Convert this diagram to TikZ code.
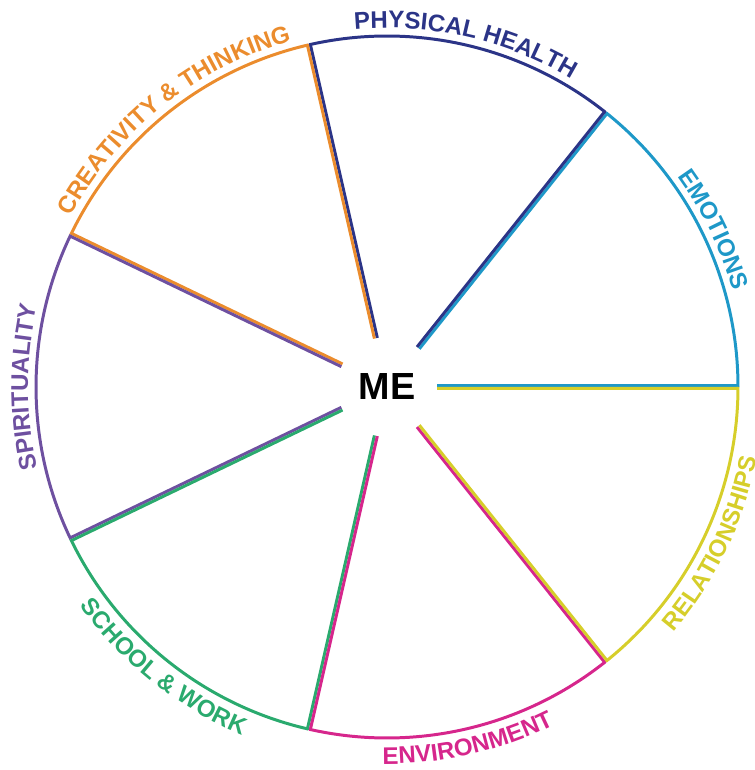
\documentclass[tikz,border=0pt]{standalone}
\usepackage{fontspec}
\setmainfont{Liberation Sans}
\usetikzlibrary{decorations.text}

\definecolor{navy}{RGB}{43,52,135}
\definecolor{sky}{RGB}{30,152,200}
\definecolor{mustard}{RGB}{214,206,42}
\definecolor{magenta}{RGB}{214,38,140}
\definecolor{leaf}{RGB}{42,170,110}
\definecolor{violet}{RGB}{110,80,160}
\definecolor{tangerine}{RGB}{235,140,45}
\newcommand\wheelfont{\bfseries\fontsize{13.7}{16}\selectfont}

\begin{document}
\begin{tikzpicture}[
		x=0.02cm, y=0.02cm,
		spoke/.style={line width=3.4pt},
		rim/.style={line width=1.7pt},
		rimlabel/.style={decorate, decoration={text along path, text align=center, text color=#1}}
		]
		\useasboundingbox (-387,-383) rectangle (367,387);
		% Draw the seven sectors, each clipped to its own wedge
		\foreach \a/\b/\col in {0/51.43/sky, 51.43/102.86/navy, 102.86/154.29/tangerine,
			154.29/205.71/violet, 205.71/257.14/leaf, 257.14/308.57/magenta, 308.57/360/mustard}{
			\begin{scope}
				\clip (0,0) -- (\a:420) arc[start angle=\a, end angle=\b, radius=420] -- cycle;
				\draw[spoke, \col] (\a:50) -- (\a:351) (\b:50) -- (\b:351);
				\draw[rim, \col] (\a:351) arc[start angle=\a, end angle=\b, radius=351];
			\end{scope}
		}
		\node[font=\bfseries\fontsize{21.5}{26}\selectfont] (me) at (0,0) {ME};
		
		% Labels round the rim
		\path[rimlabel=sky, decoration={text={|\wheelfont|EMOTIONS}}] (75.71:359) arc[start angle=75.71, end angle=-24.29, radius=359];
		\path[rimlabel=navy, decoration={text={|\wheelfont|PHYSICAL HEALTH}}] (127.14:359) arc[start angle=127.14, end angle=27.14, radius=359];
		\path[rimlabel=tangerine, decoration={text={|\wheelfont|CREATIVITY {\&} THINKING}}] (178.57:359) arc[start angle=178.57, end angle=78.57, radius=359];
		\path[rimlabel=violet, decoration={text={|\wheelfont|SPIRITUALITY}}] (230:359) arc[start angle=230, end angle=130, radius=359];
		\path[rimlabel=leaf, decoration={text={|\wheelfont|SCHOOL {\&} WORK}}] (181.43:377) arc[start angle=181.43, end angle=281.43, radius=377];
		\path[rimlabel=magenta, decoration={text={|\wheelfont|ENVIRONMENT}}] (232.86:377) arc[start angle=232.86, end angle=332.86, radius=377];
		\path[rimlabel=mustard, decoration={text={|\wheelfont|RELATIONSHIPS}}] (284.29:377) arc[start angle=284.29, end angle=384.29, radius=377];
	\end{tikzpicture}
\end{document}
